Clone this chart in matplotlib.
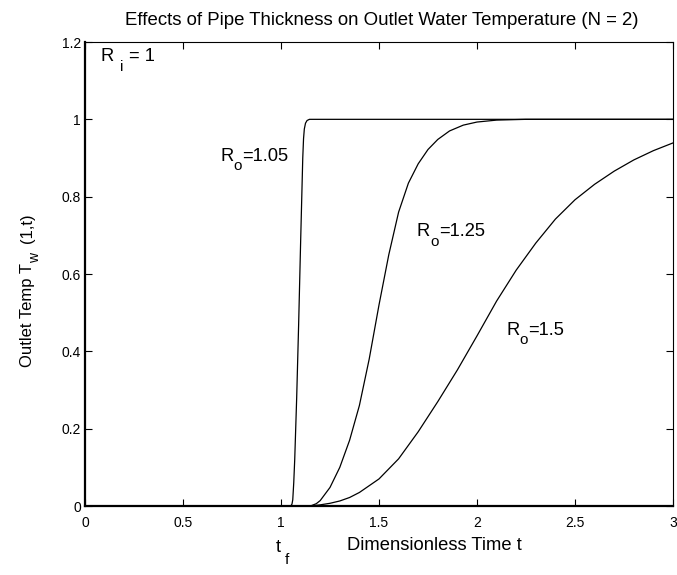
import matplotlib
matplotlib.use("Agg")
import matplotlib.pyplot as plt

plt.rcParams["font.family"] = ["Liberation Sans", "DejaVu Sans"]

# outlet temperature readings, one pair of lists per outer radius
t_105 = [0.0, 1.05, 1.056, 1.06, 1.065, 1.07, 1.08, 1.09, 1.10, 1.106,
         1.111, 1.115, 1.119, 1.125, 1.133, 1.145, 3.0]
T_105 = [0.0, 0.0, 0.005, 0.016, 0.06, 0.12, 0.28, 0.47, 0.68, 0.80,
         0.90, 0.95, 0.975, 0.99, 0.997, 1.0, 1.0]

t_125 = [0.0, 1.15, 1.18, 1.2, 1.25, 1.3, 1.35, 1.4, 1.45, 1.5, 1.55,
         1.6, 1.65, 1.7, 1.75, 1.8, 1.86, 1.93, 2.0, 2.1, 2.25, 3.0]
T_125 = [0.0, 0.0, 0.006, 0.014, 0.048, 0.10, 0.17, 0.26, 0.38, 0.52, 0.65,
         0.76, 0.835, 0.885, 0.922, 0.948, 0.97, 0.985, 0.993, 0.998, 1.0, 1.0]

t_150 = [0.0, 1.15, 1.2, 1.25, 1.3, 1.35, 1.4, 1.5, 1.6, 1.7, 1.8, 1.9,
         2.0, 2.1, 2.2, 2.3, 2.4, 2.5, 2.6, 2.7, 2.8, 2.9, 3.0]
T_150 = [0.0, 0.0, 0.003, 0.007, 0.013, 0.022, 0.035, 0.07, 0.122, 0.192,
         0.27, 0.352, 0.44, 0.53, 0.61, 0.68, 0.742, 0.792, 0.832, 0.866,
         0.895, 0.919, 0.939]

curve_labels = ["1.05", "1.25", "1.5"]

x_ticks = [0, 0.5, 1, 1.5, 2, 2.5, 3]
y_ticks = [0, 0.2, 0.4, 0.6, 0.8, 1, 1.2]
x_ticklabels = ["0", "0.5", "1", "1.5", "2", "2.5", "3"]
y_ticklabels = ["0", "0.2", "0.4", "0.6", "0.8", "1", "1.2"]

W, H = 677, 575
fig = plt.figure(figsize=(W / 100, H / 100), dpi=100)
ax = fig.add_axes([85 / W, 1 - 506 / H, 588 / W, 464 / H])
renderer = fig.canvas.get_renderer()


def rich_text(x0, y0, parts, rot=0):
    # parts: (text, size, drop in px, gap before in px); x0, y0 in px from top-left
    pos = 0
    for s, fs, drop, gap in parts:
        pos += gap
        if rot == 0:
            x, y = x0 + pos, y0 + drop
        else:
            x, y = x0 + drop, y0 - pos
        t = fig.text(x / W, 1 - y / H, s, fontsize=fs, rotation=rot,
                     rotation_mode="anchor", ha="left", va="baseline")
        bb = t.get_window_extent(renderer)
        pos += bb.width if rot == 0 else bb.height


for t, T in [(t_105, T_105), (t_125, T_125), (t_150, T_150)]:
    ax.plot(t, T, color="black", linewidth=0.9)

ax.set_xlim(0, 3)
ax.set_ylim(0, 1.2)
ax.set_xticks(x_ticks)
ax.set_xticklabels(x_ticklabels)
ax.set_yticks(y_ticks)
ax.set_yticklabels(y_ticklabels)
ax.tick_params(direction="in", length=5, width=0.8, top=True, right=True,
               labelsize=10)
ax.tick_params(axis="x", pad=7)
ax.tick_params(axis="y", pad=3)
ax.spines["left"].set_linewidth(1.6)
ax.spines["bottom"].set_linewidth(1.6)
ax.spines["top"].set_linewidth(0.8)
ax.spines["right"].set_linewidth(0.8)

# annotations (pixel anchors)
rich_text(101, 61, [("R", 13.2, 0, 0), ("i", 11, 10, 6), ("= 1", 13.2, 0, 5)])
label_pos = [(220.5, 161), (417, 236.5), (506.5, 335)]
for (px, py), lab in zip(label_pos, curve_labels):
    rich_text(px, py, [("R", 13.2, 0, 0), ("o", 11, 9, 0), ("=" + lab, 13.2, 0, 0)])

fig.text(382 / W, 1 - 25 / H, "Effects of Pipe Thickness on Outlet Water Temperature (N = 2)",
         fontsize=13.4, ha="center", va="baseline")
fig.text(434 / W, 1 - 550 / H, "Dimensionless Time t", fontsize=13.2,
         ha="center", va="baseline")
rich_text(276, 552, [("t", 13.2, 0, 0), ("f", 11, 12, 4)])
rich_text(31.7, 366.7, [("Outlet Temp T", 12, 0, 0), ("w", 10, 7, 0), ("(1,t)", 12, 0, 10)], rot=90)

fig.savefig("out.png", dpi=100)
